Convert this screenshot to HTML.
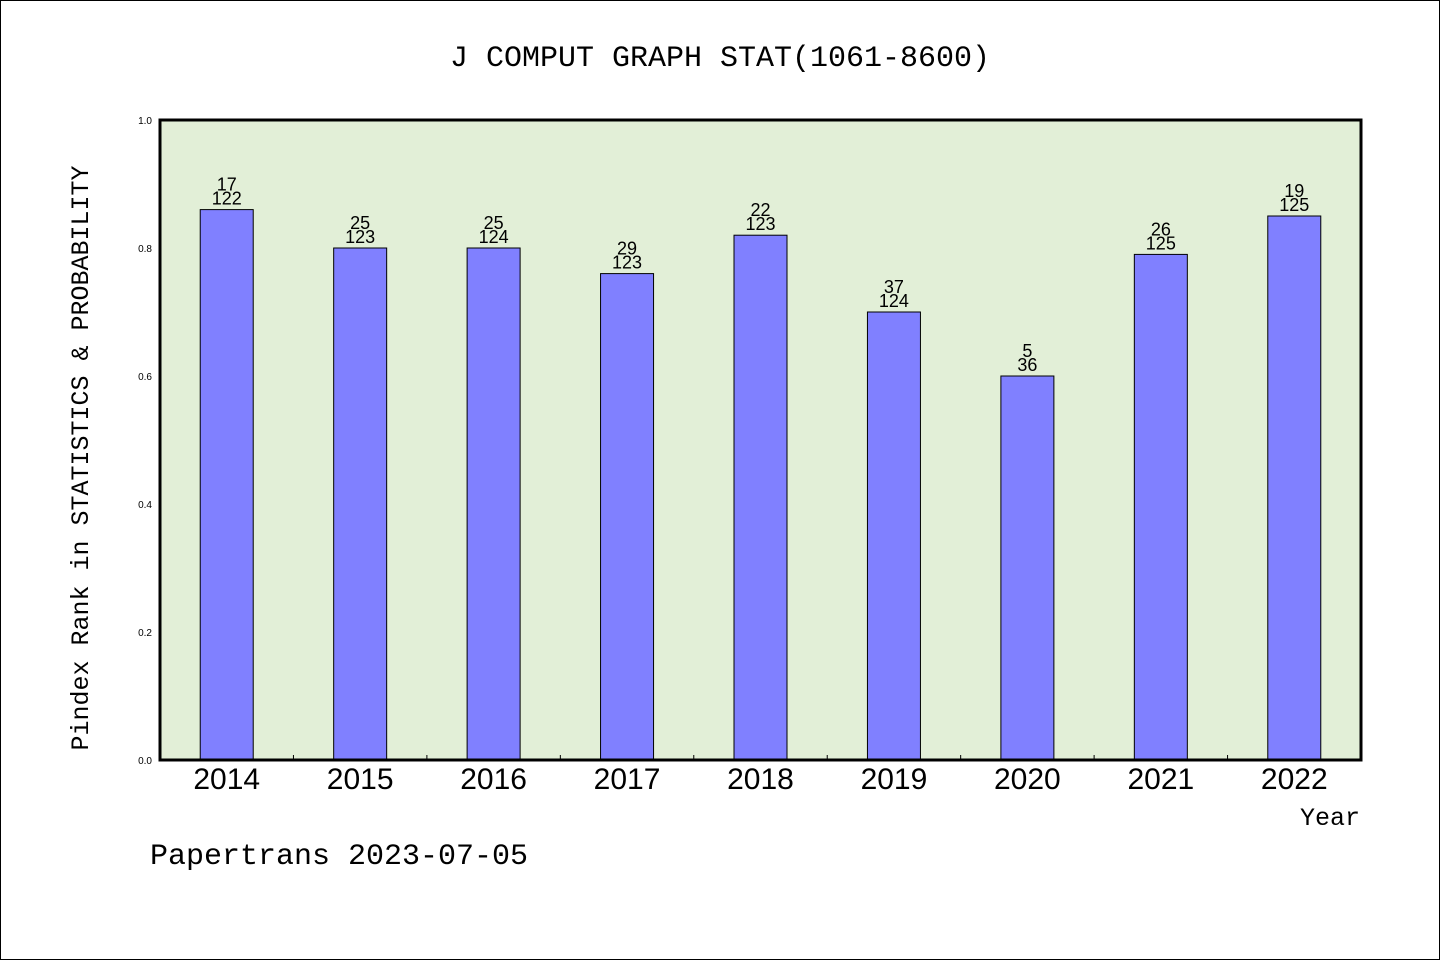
<!DOCTYPE html>
<html><head><meta charset="utf-8"><style>
html,body{margin:0;padding:0;background:#fff;}
svg{display:block;}
</style></head><body>
<svg id="chart" width="1440" height="960" xmlns="http://www.w3.org/2000/svg">
<rect x="0.5" y="0.5" width="1439" height="959" fill="#fff" stroke="#000" stroke-width="1"/>
<text x="720" y="66" text-anchor="middle" font-family="Liberation Mono, monospace" font-size="30">J COMPUT GRAPH STAT(1061-8600)</text>
<rect x="160" y="120" width="1201" height="640" fill="#e2efd7"/>
<g id="bars"></g>
<g id="axes"></g>
<rect x="160" y="120" width="1201" height="640" fill="none" stroke="#000" stroke-width="3"/>
<text transform="translate(88,458) rotate(-90)" text-anchor="middle" font-family="Liberation Mono, monospace" font-size="25">Pindex Rank in STATISTICS &amp; PROBABILITY</text>
<text x="1360" y="825" text-anchor="end" font-family="Liberation Mono, monospace" font-size="25">Year</text>
<text x="150" y="864" font-family="Liberation Mono, monospace" font-size="30">Papertrans 2023-07-05</text>
</svg>
<script>
const categories = ["2014","2015","2016","2017","2018","2019","2020","2021","2022"];
const values = [0.86,0.80,0.80,0.76,0.82,0.70,0.60,0.79,0.85];
const ranks = ["17","25","25","29","22","37","5","26","19"];
const totals = ["122","123","124","123","123","124","36","125","125"];
const yTicks = ["0.0","0.2","0.4","0.6","0.8","1.0"];

const NS = "http://www.w3.org/2000/svg";
const X0 = 160, X1 = 1361, Y0 = 760, Y1 = 120;
const band = (X1 - X0) / categories.length;
const xCenter = i => X0 + band * (i + 0.5);
const yScale = v => Y0 - (v / 1.0) * (Y0 - Y1);
function mk(tag, attrs, txt){
  const e = document.createElementNS(NS, tag);
  for (const k in attrs) e.setAttribute(k, attrs[k]);
  if (txt !== undefined) e.textContent = txt;
  return e;
}
const bars = document.getElementById("bars");
const axes = document.getElementById("axes");
const bw = 53;
values.forEach((v, i) => {
  const cx = xCenter(i), y = yScale(v);
  const r = mk("rect", {x: cx - bw/2, y: y, width: bw, height: Y0 - y, fill: "#8080ff", stroke: "#000", "stroke-width": 1});
  
  
  bars.appendChild(r);
  const t1 = mk("text", {x: cx, y: y - 19, "text-anchor": "middle", "font-family": "Liberation Sans, sans-serif", "font-size": 18}, ranks[i]);
  
  
  bars.appendChild(t1);
  const t2 = mk("text", {x: cx, y: y - 5, "text-anchor": "middle", "font-family": "Liberation Sans, sans-serif", "font-size": 18}, totals[i]);
  
  
  bars.appendChild(t2);
  const xl = mk("text", {x: cx, y: 789, "text-anchor": "middle", "font-family": "Liberation Sans, sans-serif", "font-size": 30}, categories[i]);
  
  
  axes.appendChild(xl);
  if (i > 0) {
    const tk = mk("line", {x1: X0 + band*i, x2: X0 + band*i, y1: Y0 - 5, y2: Y0, stroke: "#000", "stroke-width": 1});
    
    
    axes.appendChild(tk);
  }
});
yTicks.forEach(t => {
  const yl = mk("text", {x: 152, y: yScale(parseFloat(t)) + 4, "text-anchor": "end", "font-family": "Liberation Sans, sans-serif", "font-size": 10}, t);
  
  
  axes.appendChild(yl);
});
</script>
</body></html>
